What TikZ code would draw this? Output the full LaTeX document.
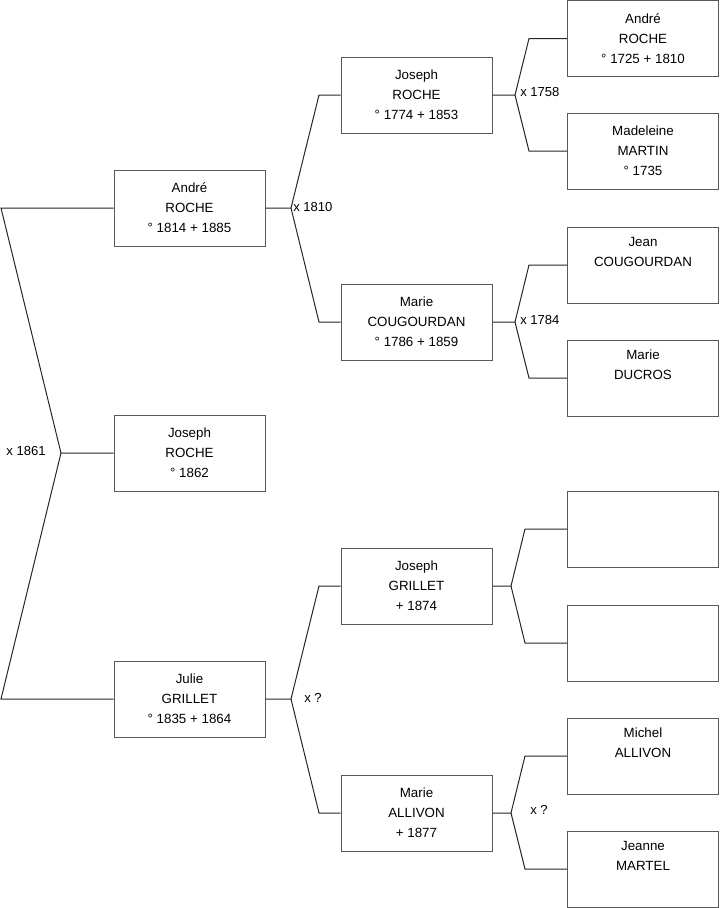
\documentclass[tikz,border=0pt]{standalone}
\usepackage{fontspec}
\setmainfont{Liberation Sans}
\begin{document}
\begin{tikzpicture}[x=0.75pt,y=-0.75pt,
  person/.style={draw=black!65,line width=0.75pt,minimum width=113.25pt,minimum height=57pt,
    inner sep=0pt,align=center,font=\fontsize{10}{15}\selectfont},
  link/.style={draw=black!85,line width=0.75pt},
  lbl/.style={font=\fontsize{9.8}{11}\selectfont,inner sep=0pt}]
\useasboundingbox (0,0) rectangle (719,908);
% column 1
\node[person] (a1) at (189.5,208) {André\\ROCHE\\° 1814 + 1885};
\node[person] (a0) at (189.5,453) {Joseph\\ROCHE\\° 1862};
\node[person] (a2) at (189.5,699) {Julie\\GRILLET\\° 1835 + 1864};
% column 2
\node[person] (b1) at (416.5,95) {Joseph\\ROCHE\\° 1774 + 1853};
\node[person] (b2) at (416.5,322) {Marie\\COUGOURDAN\\° 1786 + 1859};
\node[person] (b3) at (416.5,586) {Joseph\\GRILLET\\+ 1874};
\node[person] (b4) at (416.5,813) {Marie\\ALLIVON\\+ 1877};
% column 3
\node[person] (c1) at (643,38.5) {André\\ROCHE\\° 1725 + 1810};
\node[person] (c2) at (643,151) {Madeleine\\MARTIN\\° 1735};
\node[person] (c3) at (643,265) {Jean\\COUGOURDAN\\\strut};
\node[person] (c4) at (643,378) {Marie\\DUCROS\\\strut};
\node[person] (c5) at (643,529) {};
\node[person] (c6) at (643,643) {};
\node[person] (c7) at (643,756) {Michel\\ALLIVON\\\strut};
\node[person] (c8) at (643,869) {Jeanne\\MARTEL\\\strut};
% junction coordinates
\coordinate (j0) at (61,453);
\coordinate (j0a) at (1,208);
\coordinate (j0b) at (1,699);
\coordinate (j1) at (291,208);
\coordinate (j1a) at (319,95);
\coordinate (j1b) at (319,322);
\coordinate (j2) at (291,699);
\coordinate (j2a) at (319,586);
\coordinate (j2b) at (319,813);
\coordinate (k1) at (515,95);
\coordinate (k1a) at (529,38.5);
\coordinate (k1b) at (529,151);
\coordinate (k2) at (515,322);
\coordinate (k2a) at (529,265);
\coordinate (k2b) at (529,378);
\coordinate (k3) at (511,586);
\coordinate (k3a) at (525,529);
\coordinate (k3b) at (525,643);
\coordinate (k4) at (511,813);
\coordinate (k4a) at (525,756);
\coordinate (k4b) at (525,869);
% connectors
\draw[link] (a0.west) -- (j0) -- (j0a) -- (a1.west);
\draw[link] (j0) -- (j0b) -- (a2.west);
\draw[link] (a1.east) -- (j1) -- (j1a) -- (b1.west);
\draw[link] (j1) -- (j1b) -- (b2.west);
\draw[link] (a2.east) -- (j2) -- (j2a) -- (b3.west);
\draw[link] (j2) -- (j2b) -- (b4.west);
\draw[link] (b1.east) -- (k1) -- (k1a) -- (c1.west);
\draw[link] (k1) -- (k1b) -- (c2.west);
\draw[link] (b2.east) -- (k2) -- (k2a) -- (c3.west);
\draw[link] (k2) -- (k2b) -- (c4.west);
\draw[link] (b3.east) -- (k3) -- (k3a) -- (c5.west);
\draw[link] (k3) -- (k3b) -- (c6.west);
\draw[link] (b4.east) -- (k4) -- (k4a) -- (c7.west);
\draw[link] (k4) -- (k4b) -- (c8.west);
% marriage labels
\node[lbl] (m0) at (26,451) {x 1861};
\node[lbl,anchor=west] (m1) at (293,207) {x 1810};
\node[lbl,anchor=west] (m2) at (520,92) {x 1758};
\node[lbl,anchor=west] (m3) at (520,320) {x 1784};
\node[lbl] (m4) at (313,698) {x ?};
\node[lbl] (m5) at (539,810) {x ?};
\end{tikzpicture}
\end{document}
